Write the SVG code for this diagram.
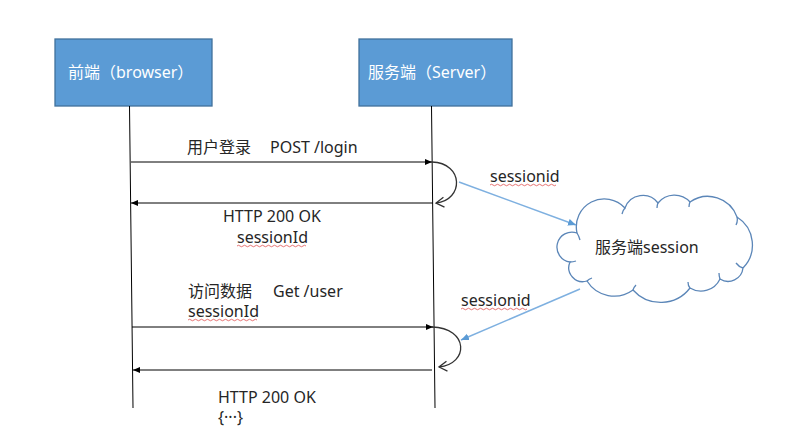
<svg xmlns="http://www.w3.org/2000/svg" width="793" height="441" viewBox="0 0 793 441">
<style>
text{font-family:"Noto Sans","Noto Sans CJK SC",sans-serif;font-size:16px;fill:#262626}
.box{fill:#5B9BD5;stroke:#41719C;stroke-width:1.3}
.bt{fill:#ffffff}
.life{stroke:#000;stroke-width:1;fill:none}
.msg{stroke:#000;stroke-width:1;fill:none;marker-end:url(#ah)}
.loop{stroke:#333;stroke-width:1.3;fill:none;marker-end:url(#open)}
.blue{stroke:#7EB0E0;stroke-width:1.5;fill:none;marker-end:url(#bh)}
.cloud{fill:#fff;stroke:#5B86B8;stroke-width:1.3}
.hook{fill:none;stroke:#5B86B8;stroke-width:1.3}
.sq{stroke:#E05050;stroke-width:0.8;fill:none}
</style>
<defs>
<marker id="ah" markerWidth="8" markerHeight="8" refX="7" refY="4" orient="auto" markerUnits="userSpaceOnUse">
<path d="M0,1 L7,4 L0,7 Z" fill="#000"/>
</marker>
<marker id="open" markerWidth="12" markerHeight="12" refX="10" refY="6" orient="auto" markerUnits="userSpaceOnUse">
<path d="M2,1 L10,6 L2,11" fill="none" stroke="#333" stroke-width="1.3"/>
</marker>
<marker id="bh" markerWidth="9" markerHeight="9" refX="8" refY="4.5" orient="auto" markerUnits="userSpaceOnUse">
<path d="M0,1 L8,4.5 L0,8 Z" fill="#5B9BD5"/>
</marker>
</defs>
<g id="browser">
<rect class="box" x="55" y="39" width="157" height="67"/>
<text class="bt" x="68" y="78">前端（browser）</text>
</g>
<g id="server">
<rect class="box" x="359" y="39" width="153" height="67"/>
<text class="bt" x="368" y="78">服务端（Server）</text>
</g>
<g id="session">
<path class="cloud" d="M577,233 A28,28 0 0 1 625,208 A19,19 0 0 1 658,203 A21,21 0 0 1 690,202 A31,31 0 0 1 737,217 A33,33 0 0 1 743,268 A15,15 0 0 1 720,279 A21,21 0 0 1 690,288 A37,37 0 0 1 633,290 A32,32 0 0 1 587,281 A14,14 0 0 1 570,262 A15,15 0 1 1 577,233 Z"/>
<path class="hook" d="M577,233 q2,3 3,7 M625,208 q-2,2 -3,6 M658,203 q-1,2 -1,5 M690,202 q-1,2 -1,5 M737,217 q1,4 -1,8 M743,268 q-4,-1 -7,-5 M720,279 q-1,-3 -1,-6 M690,288 q-2,-2 -2,-6 M633,290 q1,-3 3,-5 M587,281 q2,-2 5,-3 M570,262 q3,0 6,-1"/>
<text x="595" y="253">服务端session</text>
</g>
<g id="connectors">
<path class="life" d="M129.5,106 L133,408"/>
<path class="life" d="M431.5,106 L435,408"/>
<path class="msg" d="M131,162 L432,162"/>
<path class="loop" d="M432,162 C464,163 464,200 436,203"/>
<path class="msg" d="M433,203 L131,203"/>
<path class="msg" d="M132,327 L433,327"/>
<path class="loop" d="M432,327 C469,328 469,364 439,367"/>
<path class="msg" d="M432,370 L133,370"/>
<path class="blue" d="M459,182 L576,225"/>
<path class="blue" d="M580,289 L461,340"/>
</g>
<g id="labels">
<text x="187" y="153">用户登录</text>
<text x="270" y="153">POST /login</text>
<text x="223" y="222">HTTP 200 OK</text>
<text x="237" y="243">sessionId</text>
<path class="sq" d="M237,246 q1.5,-1.5 3,0 t3,0 t3,0 t3,0 t3,0 t3,0 t3,0 t3,0 t3,0 t3,0 t3,0 t3,0 t3,0 t3,0 t3,0 t3,0 t3,0 t3,0 t3,0 t3,0 t3,0 t3,0 t3,0"/>
<text x="490" y="182">sessionid</text>
<path class="sq" d="M490,185 q1.5,-1.5 3,0 t3,0 t3,0 t3,0 t3,0 t3,0 t3,0 t3,0 t3,0 t3,0 t3,0 t3,0 t3,0 t3,0 t3,0 t3,0 t3,0 t3,0 t3,0 t3,0 t3,0 t3,0"/>
<text x="188" y="297">访问数据</text>
<text x="273" y="297">Get /user</text>
<text x="188" y="317">sessionId</text>
<path class="sq" d="M188,320 q1.5,-1.5 3,0 t3,0 t3,0 t3,0 t3,0 t3,0 t3,0 t3,0 t3,0 t3,0 t3,0 t3,0 t3,0 t3,0 t3,0 t3,0 t3,0 t3,0 t3,0 t3,0 t3,0 t3,0 t3,0"/>
<text x="461" y="306">sessionid</text>
<path class="sq" d="M461,309 q1.5,-1.5 3,0 t3,0 t3,0 t3,0 t3,0 t3,0 t3,0 t3,0 t3,0 t3,0 t3,0 t3,0 t3,0 t3,0 t3,0 t3,0 t3,0 t3,0 t3,0 t3,0 t3,0 t3,0"/>
<text x="218" y="403">HTTP 200 OK</text>
<text x="218" y="423">{···}</text>
</g>
</svg>
